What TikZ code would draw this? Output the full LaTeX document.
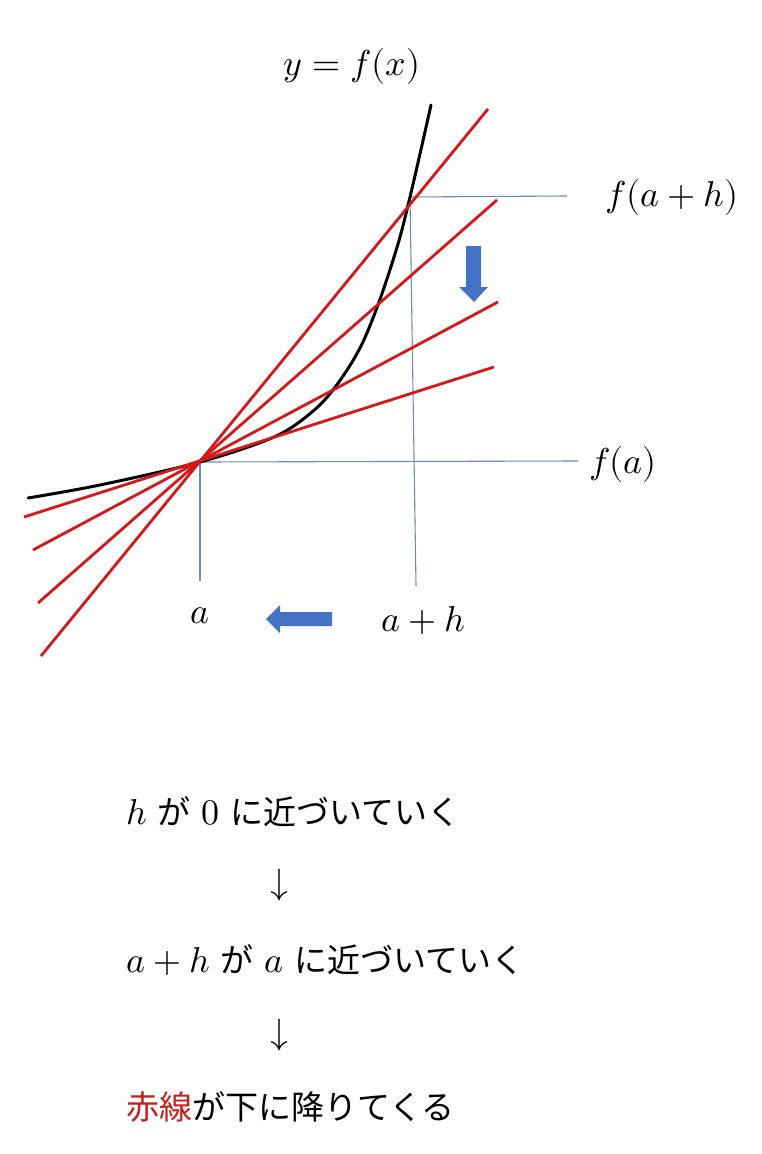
\documentclass[tikz,border=0pt]{standalone}
\usepackage{fontspec}
\usepackage{unicode-math}
\setmathfont{Latin Modern Math}
\newfontfamily\cjk{Noto Sans CJK JP}
\definecolor{redline}{RGB}{214,24,24}
\definecolor{guide}{RGB}{110,140,185}
\definecolor{arrowblue}{RGB}{68,114,196}
\definecolor{redtext}{RGB}{200,30,30}
\newcommand{\jp}[1]{{\cjk\fontsize{33}{40}\selectfont #1}}
\begin{document}
\begin{tikzpicture}[x=1pt,y=-1pt,
  guideline/.style={draw=guide,line width=1.1pt},
  secant/.style={draw=redline,line width=2.8pt},
  curve/.style={draw=black,line width=3pt,line cap=round},
  bigarrow/.style={fill=arrowblue,draw=none},
  mathlabel/.style={inner sep=0pt,font=\fontsize{36}{40}\selectfont},
  textline/.style={inner sep=0pt,anchor=base west,font=\fontsize{36}{40}\selectfont}]
\path[use as bounding box,fill=white] (0,0) rectangle (762,1154);

% named points
\coordinate (P) at (200,462);
\coordinate (Q) at (410,197);
\coordinate (faend) at (578,461);
\coordinate (fahend) at (567,196);
\coordinate (abot) at (200,581);
\coordinate (ahbot) at (416,586);

% guide lines
\draw[guideline] (P) -- (faend);
\draw[guideline] (P) -- (abot);
\draw[guideline] (Q) -- (fahend);
\draw[guideline] (Q) -- (ahbot);

% curve y=f(x)
\draw[curve] plot[smooth,tension=0.55] coordinates {(28,498) (100,485) (200,462) (274,437) (312,412) (336,386) (360,348) (379,302) (398,244) (410,197) (422,145) (431,105)};

% secant lines
\coordinate (s1a) at (41,656);  \coordinate (s1b) at (488,109);
\coordinate (s2a) at (38,603);  \coordinate (s2b) at (497,200);
\coordinate (s3a) at (33,550);  \coordinate (s3b) at (498,302);
\coordinate (s4a) at (24,517);  \coordinate (s4b) at (494,367);
\draw[secant] (s1a) -- (s1b);
\draw[secant] (s2a) -- (s2b);
\draw[secant] (s3a) -- (s3b);
\draw[secant] (s4a) -- (s4b);

% blue block arrows
\fill[bigarrow] (466,246) -- (481,246) -- (481,287) -- (488,287) -- (474,302) -- (459,287) -- (466,287) -- cycle;
\fill[bigarrow] (332,612) -- (280,612) -- (280,605) -- (266,619) -- (280,633) -- (280,626) -- (332,626) -- cycle;

% labels
\node[mathlabel] (title) at (352,66) {$y=f(x)$};
\node[mathlabel] (lfah) at (672,197) {$f(a+h)$};
\node[mathlabel] (lfa) at (623,464) {$f(a)$};
\node[mathlabel] (la) at (200,616) {$a$};
\node[mathlabel] (lah) at (423,620) {$a+h$};

% explanation
\node[textline] (t1) at (126,824) {$h$ \jp{が} $0$ \jp{に近づいていく}};
\node[mathlabel] (d1) at (279,885) {$\downarrow$};
\node[textline] (t2) at (126,972) {$a+h$ \jp{が} $a$ \jp{に近づいていく}};
\node[mathlabel] (d2) at (279,1035) {$\downarrow$};
\node[textline,font=\cjk\fontsize{33}{40}\selectfont] (t3) at (126,1119) {\textcolor{redtext}{赤線}が下に降りてくる};
\end{tikzpicture}
\end{document}
